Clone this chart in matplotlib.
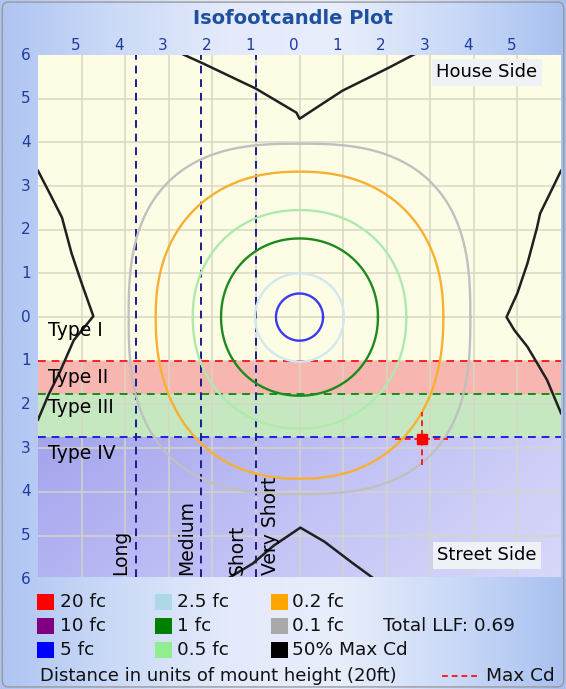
import numpy as np
import matplotlib.pyplot as plt
from matplotlib.patches import Rectangle, FancyBboxPatch
from matplotlib.colors import LinearSegmentedColormap
import matplotlib.transforms as mtransforms

plt.rcParams['font.family'] = ['DejaVu Sans']

# ------------------------------------------------------------
# data (distances in units of mount height)
# ------------------------------------------------------------
x_ticks = [-5, -4, -3, -2, -1, 0, 1, 2, 3, 4, 5]
x_tick_labels = ['5', '4', '3', '2', '1', '0', '1', '2', '3', '4', '5']
y_ticks = [6, 5, 4, 3, 2, 1, 0, -1, -2, -3, -4, -5, -6]
y_tick_labels = ['6', '5', '4', '3', '2', '1', '0', '1', '2', '3', '4', '5', '6']

# lateral types (street side)
type_names = ['Type I', 'Type II', 'Type III', 'Type IV']
type_label_y = [-0.3, -1.38, -2.08, -3.12]
type_bounds = [-1.0, -1.75, -2.75]
type_line_colors = ['#ff2020', '#1a8a1a', '#2020e0']

# longitudinal classes
long_names = ['Long', 'Medium', 'Short', 'Very Short']
long_bounds = [-3.75, -2.25, -1.0]
long_label_x = [-4.1, -2.6, -1.42, -0.66]

# isofootcandle contours
iso_levels = ['5 fc', '2.5 fc', '1 fc', '0.5 fc', '0.2 fc', '0.1 fc']
iso_colors = ['#3a3aee', '#d2e8f0', '#1e8a1e', '#aeeaae', '#f8b030', '#c0c0c0']
iso_r_top = [0.54, 1.0, 1.8, 2.45, 3.33, 3.97]
iso_r_side = [0.54, 1.02, 1.8, 2.45, 3.3, 3.92]
iso_r_bottom = [0.54, 1.02, 1.8, 2.55, 3.7, 4.05]
iso_shape = [2.0, 2.0, 2.05, 2.1, 2.25, 2.7]

# 50% max candela trace
cd_top_x = [-2.75, -2.2, -1.0, -0.07, 0.0, 0.98, 2.05, 2.7]
cd_top_y = [6.05, 5.8, 5.23, 4.68, 4.54, 5.18, 5.71, 6.05]
cd_left_x = [-6.0, -5.73, -5.45, -5.23, -5.0, -4.73, -5.18, -5.5, -5.75, -6.0]
cd_left_y = [3.35, 2.83, 2.28, 1.46, 0.78, 0.02, -0.53, -1.26, -1.76, -2.35]
cd_right_x = [6.0, 5.52, 5.45, 5.23, 5.0, 4.75, 4.93, 5.23, 5.45, 5.68, 6.0]
cd_right_y = [3.35, 2.37, 2.05, 1.23, 0.55, 0.0, -0.3, -0.68, -1.05, -1.44, -2.2]
cd_bottom_x = [-2.0, -1.07, -0.59, 0.02, 0.57, 1.23, 2.0]
cd_bottom_y = [-6.2, -5.64, -5.23, -4.82, -5.14, -5.64, -6.2]

max_cd_x, max_cd_y = 2.8, -2.78
total_llf = 0.69
mount_height_ft = 20

legend_labels = ['20 fc', '10 fc', '5 fc', '2.5 fc', '1 fc', '0.5 fc',
                 '0.2 fc', '0.1 fc', '50% Max Cd']
legend_colors = ['#ff0000', '#800080', '#0000ff', '#add8e6', '#008000',
                 '#90ee90', '#ffa500', '#a9a9a9', '#000000']

W, H = 566, 689
fig = plt.figure(figsize=(W / 100, H / 100), dpi=100)

# ---------- frame background ----------
bg = fig.add_axes([0, 0, 1, 1], zorder=-10)
bg_cmap = LinearSegmentedColormap.from_list(
    'bg', ['#aec4f2', '#cbdaf7', '#e4eafb', '#e8eefb', '#cbdaf7', '#a8c0f0'])
grad = np.linspace(0, 1, 256).reshape(1, -1)
bg.imshow(grad, cmap=bg_cmap, aspect='auto', extent=[0, 1, 0, 1])
bg.add_patch(FancyBboxPatch((0.004, 0.003), 0.992, 0.994,
                            boxstyle='round,pad=0,rounding_size=0.01',
                            fill=False, ec='#9a9a9a', lw=1.0,
                            transform=bg.transAxes))
bg.set_xlim(0, 1)
bg.set_ylim(0, 1)
bg.axis('off')

# ---------- plot area ----------
left_px, right_px, top_px, bot_px = 38, 561, 55, 577
ax = fig.add_axes([left_px / W, 1 - bot_px / H,
                   (right_px - left_px) / W, (bot_px - top_px) / H])
xmin, xmax, ymin, ymax = -6.0, 6.0, -5.95, 6.0
ax.set_facecolor('#fdfde6')

# type bands
ax.axhspan(type_bounds[1], type_bounds[0], color='#f8b6b0', lw=0, zorder=0)
ax.axhspan(type_bounds[2], type_bounds[1], color='#c6e8c0', lw=0, zorder=0)
iv_cmap = LinearSegmentedColormap.from_list('iv', ['#a4a4ee', '#c2c2f6', '#d8d8fa'])
xx, yy = np.meshgrid(np.linspace(0, 1, 200), np.linspace(0, 1, 100))
ax.imshow(0.75 * xx + 0.25 * yy, cmap=iv_cmap, aspect='auto',
          extent=[xmin, xmax, ymin, type_bounds[2]], origin='upper', zorder=0)

# grid
for gx in range(-5, 6):
    ax.axvline(gx, color='#d6d6c4', lw=1.3, alpha=0.8, zorder=1)
for gy in range(-5, 6):
    ax.axhline(gy, color='#d6d6c4', lw=1.3, alpha=0.8, zorder=1)

# type boundaries
for yb, c in zip(type_bounds, type_line_colors):
    ax.axhline(yb, color=c, lw=1.4, ls=(0, (4, 3)), zorder=3)
for xb in long_bounds:
    ax.axvline(xb, color='#1c1c8c', lw=1.4, ls=(0, (4, 3)), zorder=3)

# isofootcandle contours
t = np.linspace(0, 2 * np.pi, 600)
ct, st = np.cos(t), np.sin(t)
for i in range(len(iso_levels)):
    n = iso_shape[i]
    px = iso_r_side[i] * np.sign(ct) * np.abs(ct) ** (2 / n)
    ry = np.where(st > 0, iso_r_top[i], iso_r_bottom[i])
    py = ry * np.sign(st) * np.abs(st) ** (2 / n)
    ax.plot(px, py, color=iso_colors[i], lw=1.7, zorder=4)

# 50% max cd
for cx, cy in [(cd_top_x, cd_top_y), (cd_left_x, cd_left_y),
               (cd_right_x, cd_right_y), (cd_bottom_x, cd_bottom_y)]:
    ax.plot(cx, cy, color='#202020', lw=1.8, zorder=5)

# max cd marker
ax.plot([max_cd_x - 0.6, max_cd_x + 0.6], [max_cd_y, max_cd_y],
        color='#ff2020', lw=1.4, ls=(0, (3, 2)), zorder=6)
ax.plot([max_cd_x, max_cd_x], [max_cd_y - 0.6, max_cd_y + 0.6],
        color='#ff2020', lw=1.4, ls=(0, (3, 2)), zorder=6)
ax.plot(max_cd_x, max_cd_y, 's', color='#ff0000', ms=7, zorder=7)

# labels inside plot
for name, yl in zip(type_names, type_label_y):
    ax.text(-5.78, yl, name, fontsize=13.5, color='black', va='center', ha='left', zorder=8)
for name, xl in zip(long_names, long_label_x):
    ax.text(xl, ymin + 0.05, name, fontsize=13.5, rotation=90, color='black',
            ha='center', va='bottom', zorder=8)

box = dict(boxstyle='square,pad=0.25', fc='#eef1f6', ec='none')
ax.text(4.3, 5.6, 'House Side', fontsize=13, ha='center', va='center', bbox=box, zorder=8)
ax.text(4.3, -5.45, 'Street Side', fontsize=13, ha='center', va='center', bbox=box, zorder=8)

# tick labels
tick_color = '#1d3d9e'
shift = mtransforms.ScaledTranslation(-6 / 100, 0, fig.dpi_scale_trans)
xtrans = mtransforms.blended_transform_factory(ax.transData, fig.transFigure)
for xv, lab in zip(x_ticks, x_tick_labels):
    ax.text(xv, 1 - 46 / H, lab, transform=xtrans + shift, fontsize=11,
            color=tick_color, ha='center', va='center', clip_on=False)
ytrans = mtransforms.blended_transform_factory(fig.transFigure, ax.transData)
for yv, lab in zip(y_ticks, y_tick_labels):
    ax.text(26 / W, yv, lab, transform=ytrans, fontsize=11,
            color=tick_color, ha='center', va='center', clip_on=False)

ax.set_xlim(xmin, xmax)
ax.set_ylim(ymin, ymax)
ax.set_xticks([])
ax.set_yticks([])
for s in ax.spines.values():
    s.set_visible(False)

# title
fig.text(293 / W, 1 - 19 / H, 'Isofootcandle Plot', fontsize=14, fontweight='bold',
         color='#1f4f9f', ha='center', va='center')

# ---------- legend ----------
col_sq_x = [37, 155, 271]
col_txt_x = [60, 177, 292]
row_y = [602, 626, 650]
for i, (lab, col) in enumerate(zip(legend_labels, legend_colors)):
    c, r = divmod(i, 3)
    fig.patches.append(Rectangle((col_sq_x[c] / W, 1 - (row_y[r] + 8) / H),
                                 17 / W, 16 / H, transform=fig.transFigure,
                                 fc=col, ec='none'))
    fig.text(col_txt_x[c] / W, 1 - row_y[r] / H, lab, fontsize=13.3,
             ha='left', va='center', color='#111111')
fig.text(383 / W, 1 - row_y[1] / H, 'Total LLF: %.2f' % total_llf, fontsize=13.3,
         ha='left', va='center', color='#111111')
fig.text(40 / W, 1 - 676 / H,
         'Distance in units of mount height (%dft)' % mount_height_ft,
         fontsize=13, ha='left', va='center', color='#111111')
fig.lines.append(plt.Line2D([442 / W, 478 / W], [1 - 676 / H, 1 - 676 / H],
                            transform=fig.transFigure, color='#ff2020', lw=1.4,
                            ls=(0, (3, 2))))
fig.text(486 / W, 1 - 676 / H, 'Max Cd', fontsize=13.3, ha='left', va='center',
         color='#111111')

fig.savefig('out.png', dpi=100)
